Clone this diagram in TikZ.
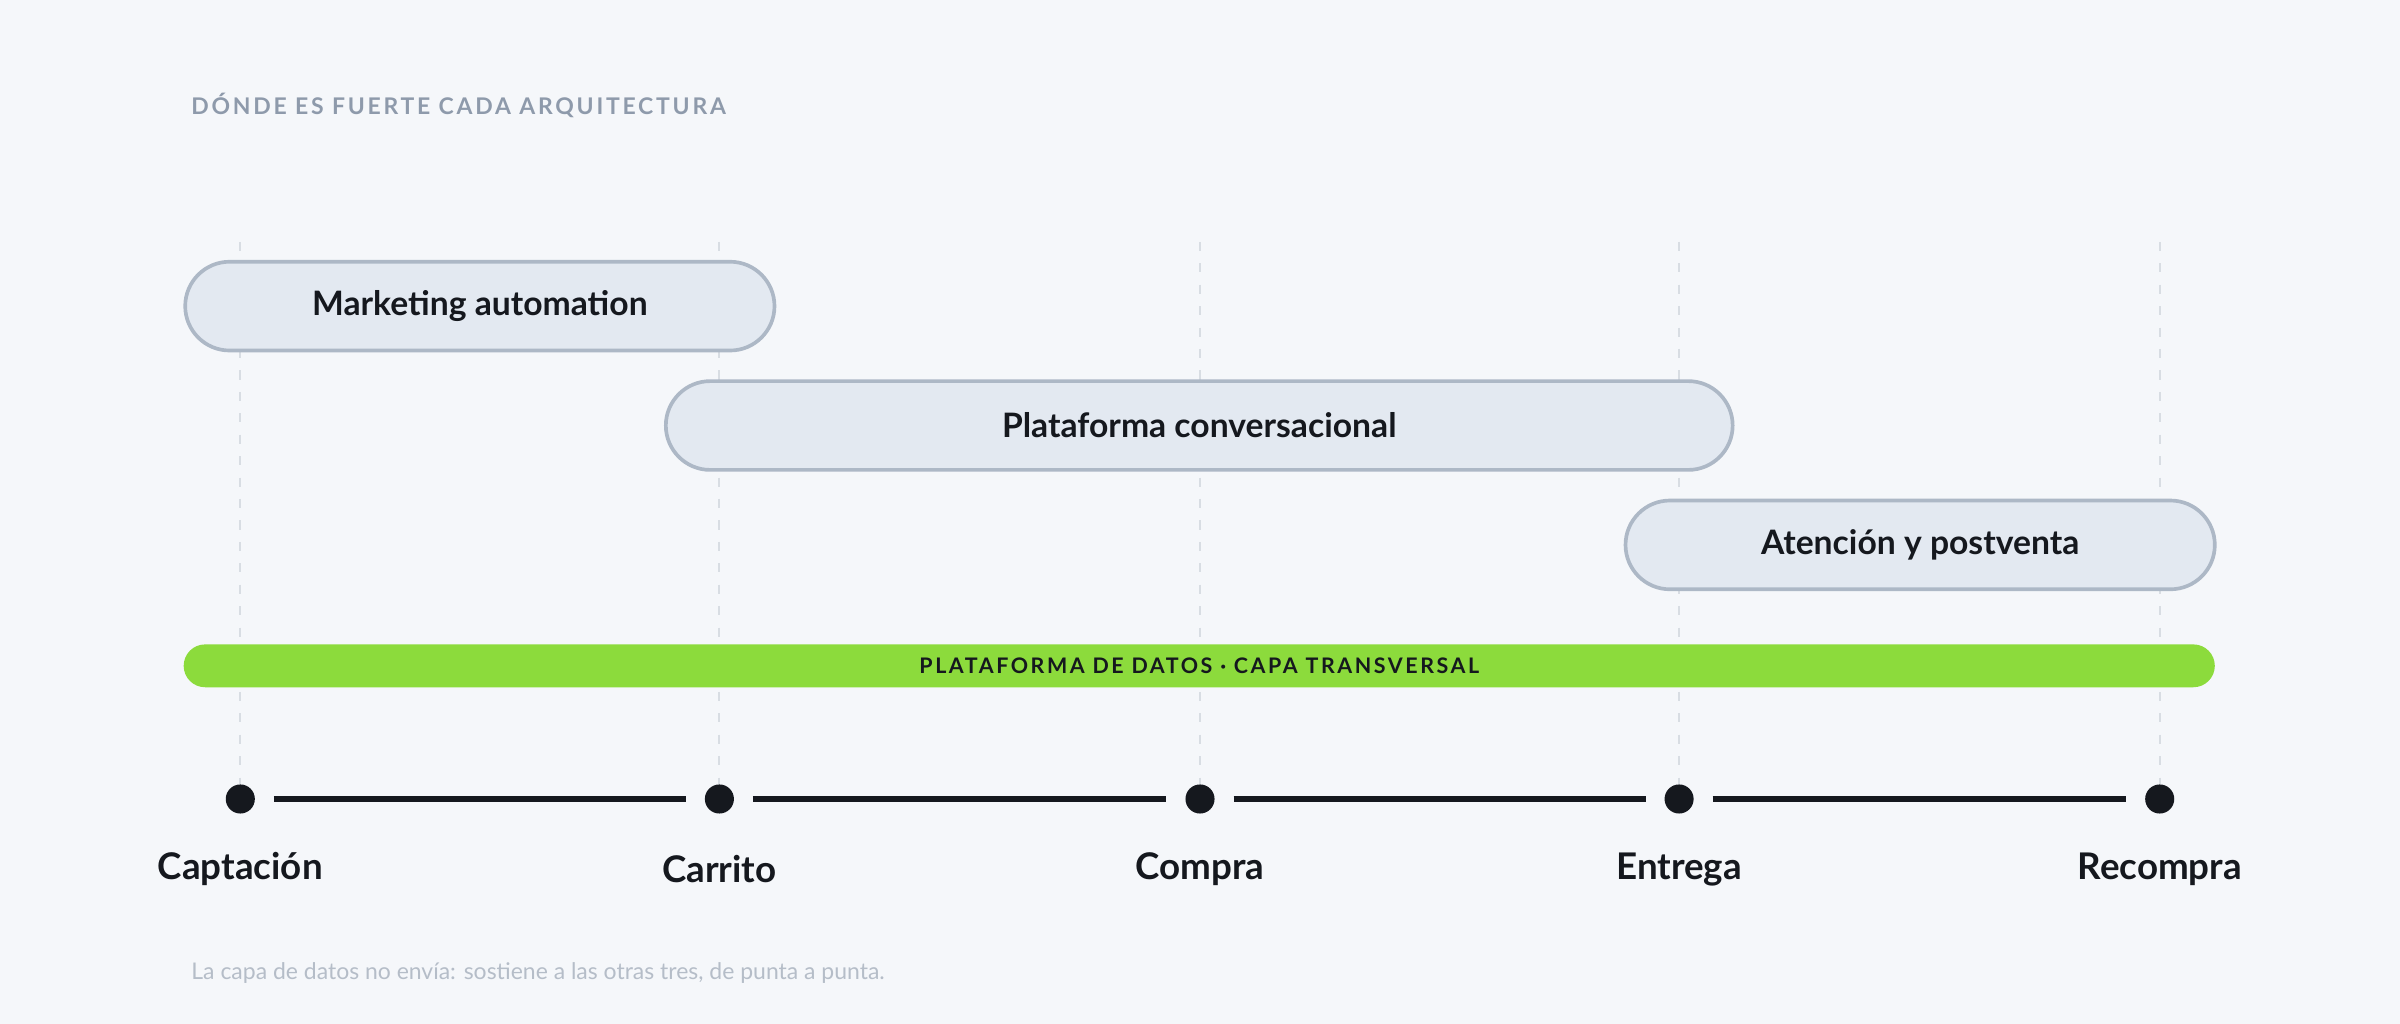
\documentclass[tikz,border=0pt]{standalone}
\usepackage{fontspec}
\setmainfont{Lato}
\newfontfamily\spaced[LetterSpace=12]{Lato}
\definecolor{bg}{HTML}{F5F7FA}
\definecolor{barfill}{HTML}{E3E9F1}
\definecolor{barline}{HTML}{ADB8C6}
\definecolor{ttl}{HTML}{8E9AAB}
\definecolor{grn}{HTML}{8CDB3C}
\definecolor{ink}{HTML}{15181E}
\definecolor{dash}{HTML}{D8DDE3}
\definecolor{cap}{HTML}{B5BDC8}
\begin{document}
\begin{tikzpicture}[x=0.5pt,y=-0.5pt,
  bar/.style={draw=barline,line width=1.2pt,fill=barfill,rounded corners=14.5pt,minimum height=29pt,inner sep=0pt,font=\fontsize{11}{13}\selectfont\bfseries,text=ink},
  dot/.style={circle,fill=ink,minimum size=9.5pt,inner sep=0pt},
  stage/.style={font=\fontsize{12}{14}\selectfont\bfseries,text=ink},
  guide/.style={draw=dash,line width=0.7pt,dash pattern=on 3pt off 4pt}]
\fill[bg] (0,0) rectangle (1568,669);
\useasboundingbox (0,0) rectangle (1568,669);
\node[anchor=west,text=ttl,font=\fontsize{7.5}{9}\selectfont\bfseries\spaced] (title) at (118,69) {DÓNDE ES FUERTE CADA ARQUITECTURA};
\foreach \n/\x in {a/157,b/470,c/784,d/1097,e/1411}{
  \coordinate (t\n) at (\x,158);
  \node[dot] (\n) at (\x,522) {};
  \draw[guide] (t\n) -- (\n);
}
\node[bar,minimum width=192.5pt] (m) at (313.5,200) {Marketing automation};
\node[bar,minimum width=348.5pt] (p) at (783.5,278) {Plataforma conversacional};
\node[bar,minimum width=192.5pt] (at) at (1254.5,356) {Atención y postventa};
\node[fill=grn,rounded corners=7pt,minimum width=663.5pt,minimum height=14pt,inner sep=0pt,text=ink,font=\fontsize{7}{8}\selectfont\bfseries\spaced] (g) at (783.5,435) {PLATAFORMA DE DATOS · CAPA TRANSVERSAL};
\draw[ink,line width=2pt,shorten <=6pt,shorten >=6pt] (a)--(b);
\draw[ink,line width=2pt,shorten <=6pt,shorten >=6pt] (b)--(c);
\draw[ink,line width=2pt,shorten <=6pt,shorten >=6pt] (c)--(d);
\draw[ink,line width=2pt,shorten <=6pt,shorten >=6pt] (d)--(e);
\node[stage] (la) at (157,568) {Captación};
\node[stage] (lb) at (470,568) {Carrito};
\node[stage] (lc) at (784,568) {Compra};
\node[stage] (ld) at (1097,568) {Entrega};
\node[stage] (le) at (1411,568) {Recompra};
\node[anchor=west,text=cap,font=\fontsize{7.5}{9}\selectfont] (note) at (118,636) {La capa de datos no envía: sostiene a las otras tres, de punta a punta.};
\end{tikzpicture}
\end{document}
